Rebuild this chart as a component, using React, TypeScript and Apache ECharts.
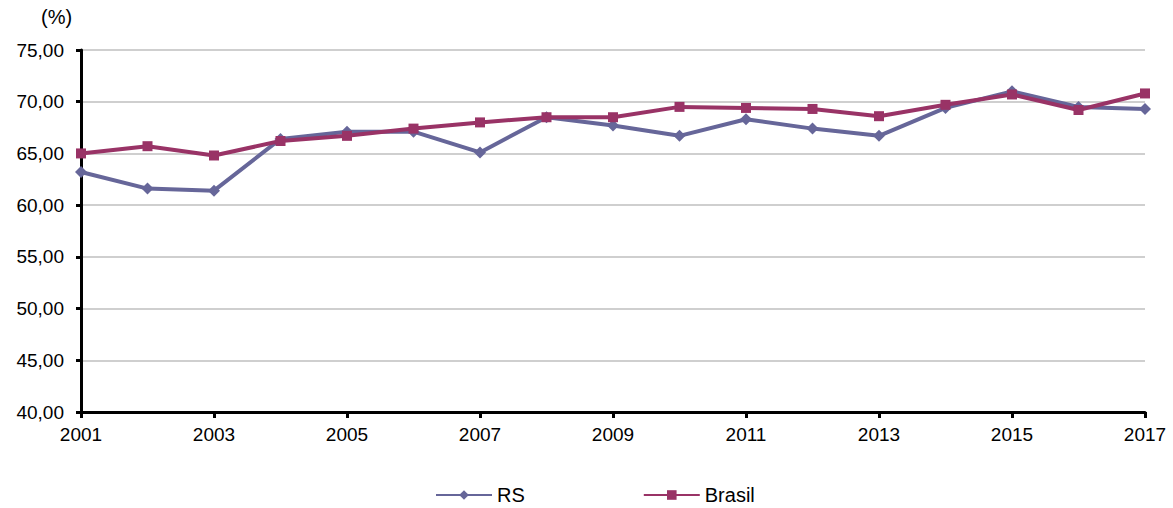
import React, { useEffect, useRef } from "react";
import * as echarts from "echarts";

// Years on the horizontal axis
const years = [
  "2001", "2002", "2003", "2004", "2005", "2006", "2007", "2008", "2009",
  "2010", "2011", "2012", "2013", "2014", "2015", "2016", "2017",
];

// Rate (%) for Rio Grande do Sul
const rsValues = [
  63.2, 61.6, 61.4, 66.4, 67.1, 67.1, 65.1, 68.5, 67.7,
  66.7, 68.3, 67.4, 66.7, 69.4, 71.0, 69.5, 69.3,
];

// Rate (%) for Brasil
const brasilValues = [
  65.0, 65.7, 64.8, 66.2, 66.7, 67.4, 68.0, 68.5, 68.5,
  69.5, 69.4, 69.3, 68.6, 69.7, 70.7, 69.2, 70.8,
];

const yMin = 40;
const yMax = 75;
const yStep = 5;

const RS_COLOR = "#666699";
const BR_COLOR = "#993366";
const FONT = "'Liberation Sans', Arial, sans-serif";

export default function App() {
  const ref = useRef<HTMLDivElement>(null);

  useEffect(() => {
    if (!ref.current) return;
    const chart = echarts.init(ref.current, undefined, { renderer: "svg" });
    chart.setOption({
      animation: false,
      backgroundColor: "#ffffff",
      textStyle: { fontFamily: FONT, color: "#000" },
      grid: { left: 81, right: 28, top: 50, bottom: 96, containLabel: false },
      graphic: [
        {
          type: "text",
          left: 41,
          top: 7,
          style: { text: "(%)", font: `20px ${FONT}`, fill: "#000" },
        },
      ],
      legend: {
        left: 430,
        top: 480,
        itemWidth: 56,
        itemHeight: 12,
        itemGap: 118,
        textStyle: { fontFamily: FONT, fontSize: 20, color: "#000" },
        data: ["RS", "Brasil"],
      },
      xAxis: {
        type: "category",
        data: years,
        boundaryGap: false,
        axisLine: { lineStyle: { color: "#000", width: 3 } },
        axisTick: { interval: 1, length: 6, lineStyle: { color: "#000", width: 3 } },
        axisLabel: { interval: 1, margin: 13, fontSize: 19, color: "#000", fontFamily: FONT },
        splitLine: { show: false },
      },
      yAxis: {
        type: "value",
        min: yMin,
        max: yMax,
        interval: yStep,
        axisLine: { show: true, lineStyle: { color: "#000", width: 3 } },
        axisTick: { show: true, length: 5, lineStyle: { color: "#000", width: 3 } },
        axisLabel: {
          margin: 17,
          fontSize: 19,
          color: "#000",
          fontFamily: FONT,
          formatter: (v: number) => v.toFixed(2).replace(".", ","),
        },
        splitLine: { lineStyle: { color: "#bfbfbf", width: 1.5 } },
      },
      series: [
        {
          name: "RS",
          type: "line",
          data: rsValues,
          symbol: "diamond",
          symbolSize: 12,
          lineStyle: { color: RS_COLOR, width: 4 },
          itemStyle: { color: RS_COLOR },
          z: 2,
        },
        {
          name: "Brasil",
          type: "line",
          data: brasilValues,
          symbol: "rect",
          symbolSize: 10,
          lineStyle: { color: BR_COLOR, width: 4 },
          itemStyle: { color: BR_COLOR },
          z: 3,
        },
      ],
    });
    return () => chart.dispose();
  }, []);

  return (
    <div
      ref={ref}
      style={{ position: "absolute", left: 0, top: 0, width: 1173, height: 508, background: "#fff" }}
    />
  );
}
